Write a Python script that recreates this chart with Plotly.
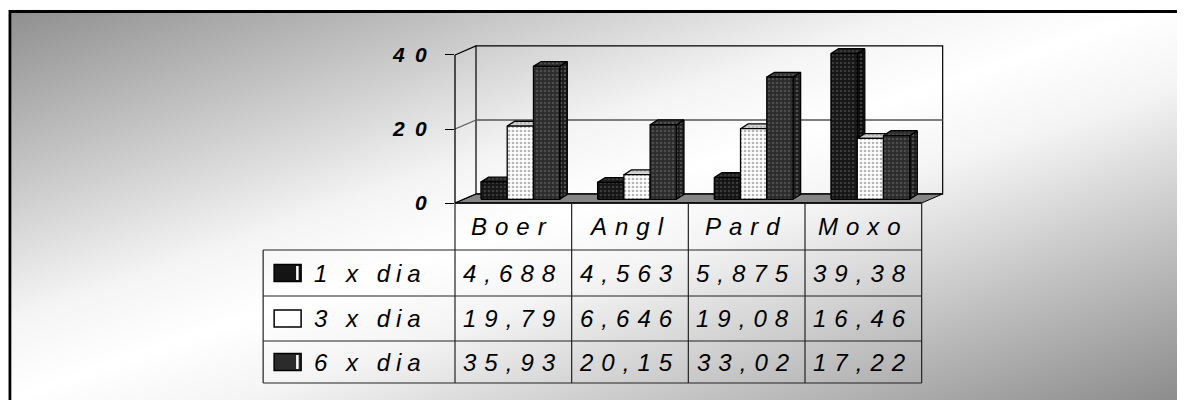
import base64
import plotly.graph_objects as go

# ---------------- data ----------------
categories = ["Boer", "Angl", "Pard", "Moxo"]
series_names = ["1 x dia", "3 x dia", "6 x dia"]
values_1x = [4.688, 4.563, 5.875, 39.38]
values_3x = [19.79, 6.646, 19.08, 16.46]
values_6x = [35.93, 20.15, 33.02, 17.22]
tick_values = [0, 20, 40]
tick_labels = ["0", "20", "40"]

series_values = [values_1x, values_3x, values_6x]

# ---------------- styles ----------------
front_colors = ["#141414", "#ffffff", "#2b2b2b"]
dot_colors = ["#3a3a3a", "#b5b5b5", "#4e4e4e"]
side_colors = ["#0b0b0b", "#cfcfcf", "#1c1c1c"]
top_colors = ["#1f1f1f", "#d4d4d4", "#303030"]

W, H = 1185, 400
OFF = 8                  # page offset of the figure inside the browser window
CAT_PX = 116.75          # pixels per category
VAL_PX = 3.7             # pixels per value unit
PL, PB = 455.0 - OFF, 203.0 - OFF    # pixel position of x=-0.5 / y=0
X0, X1 = -0.5, 3.70
Y0, Y1 = 0.0, 42.7
PR = PL + (X1 - X0) * CAT_PX
PT = PB - (Y1 - Y0) * VAL_PX

WALL_DX, WALL_DY = 0.18, 2.45
BAR_W = 0.225
BAR_SHIFT = 0.06
BAR_BASE = 1.0
BAR_DX, BAR_DY = 0.065, 1.3

FONT = "Liberation Sans, Arial, sans-serif"


def xp(x):  # data x -> paper
    return (x - X0) / (X1 - X0)


def yp(y):  # data y -> paper
    return (y - Y0) / (Y1 - Y0)


def pxx(px):  # window pixel x -> paper
    return (px - OFF - PL) / (PR - PL)


def pxy(py):  # window pixel y -> paper
    return (PB - (py - OFF)) / (PB - PT)


def spaced(s, gap):
    return gap.join(s)


def fmt(v):
    return f"{v:.4g}".replace(".", ",")


fig = go.Figure()

# ---------------- 3D bars (side, top, front faces) ----------------
faces = {"side": [], "top": [], "front": []}
for j, vals in enumerate(series_values):
    sx, sy, tx, ty, fx, fy = [], [], [], [], [], []
    for i, v in enumerate(vals):
        xl = i + BAR_SHIFT + (j - 1) * BAR_W - BAR_W / 2
        xr = xl + BAR_W
        b = BAR_BASE
        t = b + v
        sx += [xr, xr, xr + BAR_DX, xr + BAR_DX, xr, None]
        sy += [b, t, t + BAR_DY, b + BAR_DY, b, None]
        tx += [xl, xr, xr + BAR_DX, xl + BAR_DX, xl, None]
        ty += [t, t, t + BAR_DY, t + BAR_DY, t, None]
        fx += [xl, xr, xr, xl, xl, None]
        fy += [b, b, t, t, b, None]
    faces["side"].append((sx, sy, side_colors[j]))
    faces["top"].append((tx, ty, top_colors[j]))
    faces["front"].append((fx, fy, front_colors[j]))

for kind in ["side", "top", "front"]:
    for j, (fxs, fys, col) in enumerate(faces[kind]):
        fig.add_trace(go.Scatter(
            x=fxs, y=fys, mode="lines", fill="toself",
            fillcolor=col,
            fillpattern=dict(shape=".", size=4, solidity=0.35,
                             fgcolor=dot_colors[j], bgcolor=col,
                             fillmode="replace"),
            line=dict(color="#000000", width=1.3),
            name=series_names[j], showlegend=False, hoverinfo="skip",
        ))

# ---------------- walls / floor ----------------
shapes = []
bx0, by0 = X0 + WALL_DX, WALL_DY
bx1 = 3.5 + WALL_DX
shapes.append(dict(
    type="path", xref="paper", yref="paper", layer="below",
    path=(f"M {xp(-0.5)},{yp(0)} L {xp(3.5)},{yp(0)} L {xp(bx1)},{yp(by0)} "
          f"L {xp(bx0)},{yp(by0)} Z"),
    fillcolor="#858585", line=dict(color="#000", width=1)))
shapes.append(dict(type="rect", xref="paper", yref="paper", layer="below",
                   x0=xp(bx0), x1=xp(bx1), y0=yp(by0), y1=yp(40 + WALL_DY),
                   line=dict(color="#000", width=1.2)))
shapes.append(dict(type="line", xref="paper", yref="paper", layer="below",
                   x0=xp(bx0), x1=xp(bx1), y0=yp(20 + WALL_DY), y1=yp(20 + WALL_DY),
                   line=dict(color="#555", width=1.5)))
for v in tick_values:
    shapes.append(dict(type="line", xref="paper", yref="paper", layer="below",
                       x0=xp(-0.5), y0=yp(v), x1=xp(bx0), y1=yp(v + WALL_DY),
                       line=dict(color="#000" if v != 20 else "#555", width=1.2)))
shapes.append(dict(type="line", xref="paper", yref="paper",
                   x0=xp(-0.5), x1=xp(-0.5), y0=yp(0), y1=yp(40),
                   line=dict(color="#000", width=1.3)))

# ---------------- data table ----------------
row_px = [203, 250, 296, 341, 383]
leg_left = 263
tbl_line = dict(color="#222", width=1.2)
shapes.append(dict(type="line", xref="paper", yref="paper",
                   x0=xp(-0.5), x1=xp(3.5), y0=yp(0), y1=yp(0),
                   line=dict(color="#000", width=1.3)))
for r in row_px[1:]:
    shapes.append(dict(type="line", xref="paper", yref="paper",
                       x0=pxx(leg_left), x1=xp(3.5), y0=pxy(r), y1=pxy(r),
                       line=tbl_line))
for k in range(len(categories) + 1):
    shapes.append(dict(type="line", xref="paper", yref="paper",
                       x0=xp(k - 0.5), x1=xp(k - 0.5), y0=pxy(row_px[0]), y1=pxy(row_px[-1]),
                       line=tbl_line))
shapes.append(dict(type="line", xref="paper", yref="paper",
                   x0=pxx(leg_left), x1=pxx(leg_left), y0=pxy(row_px[1]), y1=pxy(row_px[-1]),
                   line=tbl_line))

annotations = []
txt_font = dict(family=FONT, size=24, color="#000", style="italic")
GAP = "\u2004"
for i, c in enumerate(categories):
    annotations.append(dict(
        x=xp(i), y=pxy((row_px[0] + row_px[1]) / 2), xref="paper", yref="paper",
        text=spaced(c, GAP), showarrow=False, xanchor="center", yanchor="middle",
        xshift=-4, font=txt_font))
for j, vals in enumerate(series_values):
    yc = (row_px[j + 1] + row_px[j + 2]) / 2
    for i, v in enumerate(vals):
        annotations.append(dict(
            x=xp(i), y=pxy(yc), xref="paper", yref="paper",
            text=spaced(fmt(v), GAP), showarrow=False, xanchor="center",
            yanchor="middle", xshift=-4, font=txt_font))
    shapes.append(dict(type="rect", xref="paper", yref="paper",
                       x0=pxx(274), x1=pxx(301), y0=pxy(yc - 8.5), y1=pxy(yc + 8.5),
                       fillcolor=front_colors[j], line=dict(color="#000", width=1.5)))
    if j != 1:
        shapes.append(dict(type="rect", xref="paper", yref="paper",
                           x0=pxx(296), x1=pxx(298.5), y0=pxy(yc - 7), y1=pxy(yc + 7),
                           fillcolor="#ffffff", line=dict(width=0)))
    annotations.append(dict(
        x=pxx(312), y=pxy(yc), xref="paper", yref="paper",
        text=spaced(series_names[j], "\u2005"), showarrow=False, xanchor="left",
        yanchor="middle", font=txt_font))

# ---------------- background (gradient + frame) ----------------
fx0, fy0 = 9.5 - OFF, 11.5 - OFF
svg = f'''<svg xmlns="http://www.w3.org/2000/svg" width="{W}" height="{H}" viewBox="0 0 {W} {H}">
<defs><linearGradient id="g" gradientUnits="userSpaceOnUse" x1="{-OFF}" y1="{-OFF}" x2="{243 - OFF}" y2="{721 - OFF}">
<stop offset="0" stop-color="#8a8a8a"/>
<stop offset="0.40" stop-color="#f4f4f4"/>
<stop offset="0.5" stop-color="#ffffff"/>
<stop offset="0.60" stop-color="#f4f4f4"/>
<stop offset="1" stop-color="#8a8a8a"/>
</linearGradient></defs>
<rect x="0" y="0" width="{W}" height="{H}" fill="#ffffff"/>
<rect x="{fx0}" y="{fy0}" width="1240" height="460" fill="url(#g)" stroke="#000000" stroke-width="3"/>
</svg>'''
src = "data:image/svg+xml;base64," + base64.b64encode(svg.encode()).decode()

fig.add_layout_image(dict(
    source=src, xref="paper", yref="paper",
    x=pxx(OFF), y=pxy(OFF), sizex=pxx(W + OFF) - pxx(OFF), sizey=pxy(OFF) - pxy(H + OFF),
    xanchor="left", yanchor="top", sizing="stretch", layer="below"))

fig.update_layout(
    width=W, height=H, template="none",
    margin=dict(l=PL, r=W - PR, t=PT, b=H - PB, pad=0, autoexpand=False),
    paper_bgcolor="#ffffff", plot_bgcolor="rgba(0,0,0,0)",
    showlegend=False, shapes=shapes, annotations=annotations,
    xaxis=dict(range=[X0, X1], visible=False, fixedrange=True, automargin=False),
    yaxis=dict(range=[Y0, Y1], showgrid=False, zeroline=False, showline=False,
               ticks="outside", ticklen=9, tickwidth=1.3, tickcolor="#000",
               tickvals=tick_values, ticktext=[spaced(t, "\u2002") for t in tick_labels],
               tickfont=dict(family=FONT, size=21, color="#000", weight="bold",
                             style="italic"),
               ticklabelstandoff=14, automargin=False, fixedrange=True),
)

fig.write_html("out.html")
